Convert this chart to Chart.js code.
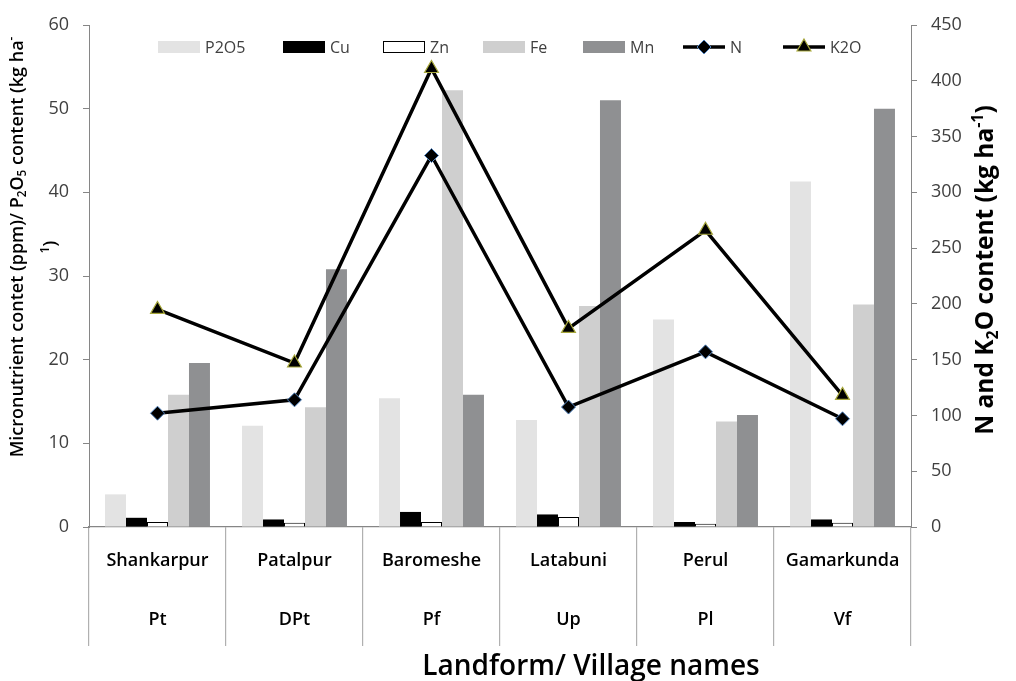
<!DOCTYPE html>
<html>
<head>
<meta charset="utf-8">
<script src="https://cdn.jsdelivr.net/npm/chart.js@4.4.1/dist/chart.umd.min.js"></script>
<style>
html,body{margin:0;padding:0;background:#ffffff;}
#wrap{width:1016px;height:681px;position:relative;}
</style>
</head>
<body>
<div id="wrap"><canvas id="c"></canvas></div>
<script>
// ---- data ----
const categories = ['Shankarpur', 'Patalpur', 'Baromeshe', 'Latabuni', 'Perul', 'Gamarkunda'];
const landforms  = ['Pt', 'DPt', 'Pf', 'Up', 'Pl', 'Vf'];
const p2o5 = [3.9, 12.1, 15.4, 12.8, 24.8, 41.3];
const cu   = [1.1, 0.9, 1.8, 1.5, 0.6, 0.9];
const zn   = [0.6, 0.5, 0.6, 1.2, 0.4, 0.5];
const fe   = [15.8, 14.3, 52.2, 26.4, 12.6, 26.6];
const mn   = [19.6, 30.8, 15.8, 51.0, 13.4, 50.0];
const nVals   = [102, 114, 333, 107.5, 157, 97];
const k2oVals = [195, 147, 411, 178, 266, 118];
const leftTicks  = [0, 10, 20, 30, 40, 50, 60];
const rightTicks = [0, 50, 100, 150, 200, 250, 300, 350, 400, 450];

const FAM = "'Open Sans', 'DejaVu Sans', sans-serif";
const AXIS = '#868686';

const labels = categories.map((c, i) => [c, landforms[i]]);

function richWidth(ctx, segs, size, weight) {
  let w = 0;
  for (const s of segs) {
    ctx.font = weight + ' ' + (s.s ? size * 0.65 : size) + 'px ' + FAM;
    w += ctx.measureText(s.t).width;
  }
  return w;
}
function drawRich(ctx, segs, cx, base, size, weight) {
  const w = richWidth(ctx, segs, size, weight);
  let x = cx - w / 2;
  ctx.textAlign = 'left';
  ctx.textBaseline = 'alphabetic';
  for (const s of segs) {
    const fs = s.s ? size * 0.65 : size;
    ctx.font = weight + ' ' + fs + 'px ' + FAM;
    let dy = 0;
    if (s.s === 'sub') dy = size * 0.22;
    if (s.s === 'sup') dy = -size * 0.4;
    ctx.fillText(s.t, x, base + dy);
    x += ctx.measureText(s.t).width;
  }
}

const overlay = {
  id: 'overlay',
  afterDraw(chart) {
    const ctx = chart.ctx;
    ctx.save();
    // legend
    const ly = 47;
    const xs = [158, 283, 383, 483, 583, 683, 783];
    chart.data.datasets.forEach((ds, i) => {
      const x = xs[i];
      if (ds.type === 'line') {
        ctx.strokeStyle = ds.borderColor;
        ctx.lineWidth = ds.borderWidth;
        ctx.beginPath(); ctx.moveTo(x, ly); ctx.lineTo(x + 42, ly); ctx.stroke();
        ctx.fillStyle = ds.pointBackgroundColor;
        ctx.strokeStyle = ds.pointBorderColor;
        ctx.lineWidth = ds.pointBorderWidth;
        ctx.beginPath();
        const r = ds.pointRadius;
        if (ds.pointStyle === 'rectRot') {
          ctx.moveTo(x + 21, ly - r); ctx.lineTo(x + 21 + r, ly); ctx.lineTo(x + 21, ly + r); ctx.lineTo(x + 21 - r, ly); ctx.closePath();
        } else {
          ctx.moveTo(x + 21, ly - r); ctx.lineTo(x + 21 + r * 0.866, ly + r / 2); ctx.lineTo(x + 21 - r * 0.866, ly + r / 2); ctx.closePath();
        }
        ctx.fill(); ctx.stroke();
      } else {
        ctx.fillStyle = ds.backgroundColor;
        ctx.fillRect(x, ly - 6, 42, 12);
        if (ds.borderWidth) {
          ctx.strokeStyle = ds.borderColor; ctx.lineWidth = 1;
          ctx.strokeRect(x + 0.5, ly - 5.5, 41, 11);
        }
      }
      ctx.fillStyle = '#404040';
      ctx.font = '16px ' + FAM;
      ctx.textAlign = 'left';
      ctx.textBaseline = 'middle';
      ctx.fillText(ds.label, x + 47, ly + 1);
    });

    ctx.fillStyle = '#000000';
    // left axis title
    ctx.save();
    ctx.translate(16, 247);
    ctx.rotate(-Math.PI / 2);
    drawRich(ctx, [
      {t: 'Micronutrient contet (ppm)/ P'}, {t: '2', s: 'sub'}, {t: 'O'}, {t: '5', s: 'sub'},
      {t: ' content (kg ha'}, {t: '-', s: 'sup'}
    ], 0, 6.5, 18, 600);
    drawRich(ctx, [{t: '1', s: 'sup'}, {t: ')'}], 0, 40, 18, 600);
    ctx.restore();
    // right axis title
    ctx.save();
    ctx.translate(984, 270);
    ctx.rotate(-Math.PI / 2);
    drawRich(ctx, [
      {t: 'N and K'}, {t: '2', s: 'sub'}, {t: 'O content (kg ha'}, {t: '-1', s: 'sup'}, {t: ')'}
    ], 0, 9, 24.5, 700);
    ctx.restore();
    // bottom title
    drawRich(ctx, [{t: 'Landform/ Village names'}], 591, 675, 28, 600);
    ctx.restore();
  }
};

const ctx = document.getElementById('c');
new Chart(ctx, {
  data: {
    labels: labels,
    datasets: [
      {type: 'bar', label: 'P2O5', data: p2o5, backgroundColor: '#e3e3e3', borderWidth: 0, yAxisID: 'y', order: 2},
      {type: 'bar', label: 'Cu', data: cu, backgroundColor: '#000000', borderWidth: 0, yAxisID: 'y', order: 2},
      {type: 'bar', label: 'Zn', data: zn, backgroundColor: '#ffffff', borderColor: '#000000', borderWidth: 1, yAxisID: 'y', order: 2},
      {type: 'bar', label: 'Fe', data: fe, backgroundColor: '#cfcfcf', borderWidth: 0, yAxisID: 'y', order: 2},
      {type: 'bar', label: 'Mn', data: mn, backgroundColor: '#8f9092', borderWidth: 0, yAxisID: 'y', order: 2},
      {type: 'line', label: 'N', data: nVals, borderColor: '#000000', borderWidth: 3.5, yAxisID: 'y1', order: 1,
       pointStyle: 'rectRot', pointRadius: 7, pointBackgroundColor: '#000000', pointBorderColor: '#4f81bd', pointBorderWidth: 1,
       tension: 0},
      {type: 'line', label: 'K2O', data: k2oVals, borderColor: '#000000', borderWidth: 3.5, yAxisID: 'y1', order: 0,
       pointStyle: 'triangle', pointRadius: 8, pointBackgroundColor: '#000000', pointBorderColor: '#a8a83c', pointBorderWidth: 1.2,
       tension: 0}
    ]
  },
  options: {
    responsive: true,
    maintainAspectRatio: false,
    animation: false,
    events: [],
    layout: {padding: {top: 25, left: 0, right: 0, bottom: 0}},
    datasets: {bar: {categoryPercentage: 0.766, barPercentage: 1.0}},
    plugins: {legend: {display: false}, tooltip: {enabled: false}, title: {display: false}},
    scales: {
      x: {
        type: 'category',
        offset: true,
        grid: {display: true, offset: true, drawOnChartArea: false, drawTicks: true, tickLength: 119, color: '#b0b0b0', lineWidth: 1.2},
        border: {display: true, color: AXIS, width: 1.2},
        ticks: {color: '#000000', font: {family: FAM, size: 18, weight: '600', lineHeight: 3.25}, padding: -114, maxRotation: 0, autoSkip: false},
        afterFit(s) { s.height = 681 - 527; }
      },
      y: {
        position: 'left',
        min: 0, max: 60,
        afterBuildTicks(s) { s.ticks = leftTicks.map(v => ({value: v})); },
        grid: {display: true, drawOnChartArea: false, drawTicks: true, tickLength: 6, color: AXIS},
        border: {display: true, color: AXIS},
        ticks: {color: '#404040', font: {family: FAM, size: 18}, padding: 14},
        afterFit(s) { s.width = 89; }
      },
      y1: {
        position: 'right',
        min: 0, max: 450,
        afterBuildTicks(s) { s.ticks = rightTicks.map(v => ({value: v})); },
        grid: {display: true, drawOnChartArea: false, drawTicks: true, tickLength: 6, color: AXIS},
        border: {display: true, color: AXIS},
        ticks: {color: '#404040', font: {family: FAM, size: 18}, padding: 14},
        afterFit(s) { s.width = 1016 - 911; }
      }
    }
  },
  plugins: [overlay]
});
</script>
</body>
</html>
